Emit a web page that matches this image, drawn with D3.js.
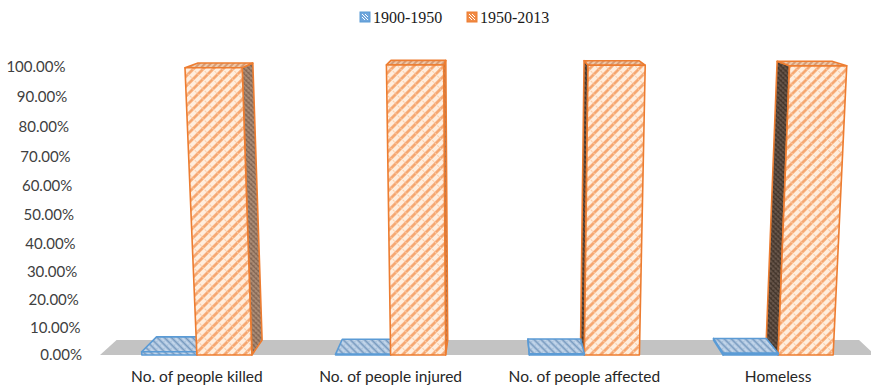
<!DOCTYPE html>
<html>
<head>
<meta charset="utf-8">
<script src="https://cdn.jsdelivr.net/npm/d3@7"></script>
<style>
  html, body { margin: 0; padding: 0; background: #fff; }
  svg { display: block; }
</style>
</head>
<body>
<svg id="chart" width="871" height="387"></svg>
<script>
// Share of flood impacts by period
const categories = ["No. of people killed", "No. of people injured", "No. of people affected", "Homeless"];
const seriesNames = ["1900-1950", "1950-2013"];
const early = [1.2, 0.3, 0.4, 0.6];
const late = [98.8, 99.7, 99.6, 99.4];
const yTicks = [0, 10, 20, 30, 40, 50, 60, 70, 80, 90, 100];
const tickLabels = yTicks.map(t => t.toFixed(2) + "%");

const svg = d3.select("#chart");

// Floor front edge and perspective settings
const floorY = 355, floorX0 = 100, floorX1 = 875;
const vpX = 495, vpY = -61;          // perspective centre
const depthShrinkX = 0.042;          // horizontal shrink from front to back plane
const depthShrinkY = 0.036;          // vertical shrink from front to back plane
const riseGrow = 0.04;               // widening with height

// value -> height in pixels (slightly non-linear for perspective)
const yLin = d3.scaleLinear().domain([0, 100]).range([0, 273]);
const hOf = v => yLin(v) + 18 * Math.pow(v / 100, 2);

// project (x on front floor line, height, depth 0..1) to screen
function proj(x, h, z) {
  const k = (1 + riseGrow * h / 288) * (1 - depthShrinkX * z);
  const sx = vpX + (x - vpX) * k;
  const yf = floorY - h;
  const sy = vpY + (yf - vpY) * (1 - depthShrinkY * z);
  return [sx, sy];
}

const x0 = d3.scaleBand().domain(categories).range([floorX0, floorX1])
  .paddingInner(0.432).paddingOuter(0.216);
const x1 = d3.scaleBand().domain(seriesNames).range([0, x0.bandwidth()]);

// patterns
const defs = svg.append("defs");
function hatch(id, bg, line, w, step, angle, cross, crossColor) {
  const p = defs.append("pattern").attr("id", id)
    .attr("patternUnits", "userSpaceOnUse")
    .attr("width", step).attr("height", step)
    .attr("patternTransform", `rotate(${angle})`);
  p.append("rect").attr("width", step).attr("height", step).attr("fill", bg);
  p.append("line").attr("x1", 0).attr("y1", step / 2).attr("x2", step).attr("y2", step / 2)
    .attr("stroke", line).attr("stroke-width", w);
  if (cross) {
    p.append("line").attr("x1", step / 2).attr("y1", 0).attr("x2", step / 2).attr("y2", step)
      .attr("stroke", crossColor || line).attr("stroke-width", cross)
      .attr("stroke-dasharray", "1.5,1.5");
  }
}
hatch("orFront", "#ffeede", "#f5a269", 2.6, 7, -45, 1, "#fbcda9");
hatch("orTop", "#efc9aa", "#d08f66", 1.6, 4, -45);
hatch("orRight", "#a3836c", "#7e6150", 1.4, 3.5, 45, 1, "#b89a85");
hatch("orLeft", "#5d4c40", "#3f3128", 1.4, 3.5, 45, 1, "#75645a");
hatch("blTop", "#c2d5ea", "#7598be", 1.8, 5, 45, 1, "#a6bfd9");
hatch("blFront", "#c2d5ea", "#7598be", 1.8, 5, 45);

const colors = {
  "1900-1950": { stroke: "#5b9bd5", front: "url(#blFront)", top: "url(#blTop)", right: "url(#blTop)", left: "url(#blTop)" },
  "1950-2013": { stroke: "#ed7d31", front: "url(#orFront)", top: "url(#orTop)", right: "url(#orRight)", left: "url(#orLeft)" }
};

// floor
const floorPts = [proj(floorX0, 0, 0), proj(floorX1, 0, 0), proj(floorX1, 0, 1), proj(floorX0, 0, 1)];
svg.append("polygon").attr("points", floorPts.map(p => p.join(",")).join(" "))
  .attr("fill", "#c3c3c3");

// bars
const bars = [];
categories.forEach((c, i) => {
  [[seriesNames[0], early[i]], [seriesNames[1], late[i]]].forEach(([s, v]) => {
    const xa = x0(c) + x1(s), xb = xa + x1.bandwidth();
    bars.push({ c, s, v, xa, xb, mid: (xa + xb) / 2 });
  });
});
bars.sort((a, b) => Math.abs(b.mid - vpX) - Math.abs(a.mid - vpX));

const line = pts => pts.map(p => p.join(",")).join(" ");
const barG = svg.append("g");
bars.forEach(b => {
  const h = hOf(b.v);
  const col = colors[b.s];
  const g = barG.append("g");
  const face = (pts, fill) => g.append("polygon").attr("points", line(pts))
    .attr("fill", fill).attr("stroke", col.stroke).attr("stroke-width", 1.6)
    .attr("stroke-linejoin", "round");
  if (b.xb < vpX) {
    face([proj(b.xb, 0, 0), proj(b.xb, h, 0), proj(b.xb, h, 1), proj(b.xb, 0, 1)], col.right);
  }
  if (b.xa > vpX) {
    face([proj(b.xa, 0, 0), proj(b.xa, h, 0), proj(b.xa, h, 1), proj(b.xa, 0, 1)], col.left);
  }
  face([proj(b.xa, h, 0), proj(b.xb, h, 0), proj(b.xb, h, 1), proj(b.xa, h, 1)], col.top);
  face([proj(b.xa, 0, 0), proj(b.xb, 0, 0), proj(b.xb, h, 0), proj(b.xa, h, 0)], col.front);
});

// value axis labels
svg.append("g").selectAll("text").data(yTicks).join("text")
  .attr("x", t => proj(82, hOf(t) * 0.99, 0)[0])
  .attr("y", t => proj(82, hOf(t) * 0.99, 0)[1] - 1)
  .attr("text-anchor", "end").attr("dominant-baseline", "central")
  .attr("font-family", "Lato, 'Open Sans', sans-serif").attr("font-size", 15)
  .attr("fill", "#404040")
  .text((t, i) => tickLabels[i]);

// category labels
svg.append("g").selectAll("text").data(categories).join("text")
  .attr("x", c => x0(c) + x0.bandwidth() / 2)
  .attr("y", 382)
  .attr("text-anchor", "middle")
  .attr("font-family", "Lato, 'Open Sans', sans-serif").attr("font-size", 15.5)
  .attr("fill", "#262626")
  .text(c => c);

// legend
const legend = svg.append("g");
const legX = [360, 467];
seriesNames.forEach((s, i) => {
  legend.append("rect").attr("x", legX[i]).attr("y", 12).attr("width", 10).attr("height", 10)
    .attr("fill", i === 0 ? "#6fa6dc" : "#f08a45").attr("stroke", colors[s].stroke);
  legend.append("path")
    .attr("d", `M${legX[i] + 2},${14} L${legX[i] + 8},${20} M${legX[i] + 5},${14} L${legX[i] + 8},${17} M${legX[i] + 2},${17} L${legX[i] + 5},${20}`)
    .attr("stroke", "#fff").attr("stroke-width", 1);
  legend.append("text").attr("x", legX[i] + 13).attr("y", 23)
    .attr("font-family", "'Liberation Serif', 'Times New Roman', serif").attr("font-size", 16)
    .attr("fill", "#1a1a1a").text(s);
});
</script>
</body>
</html>
